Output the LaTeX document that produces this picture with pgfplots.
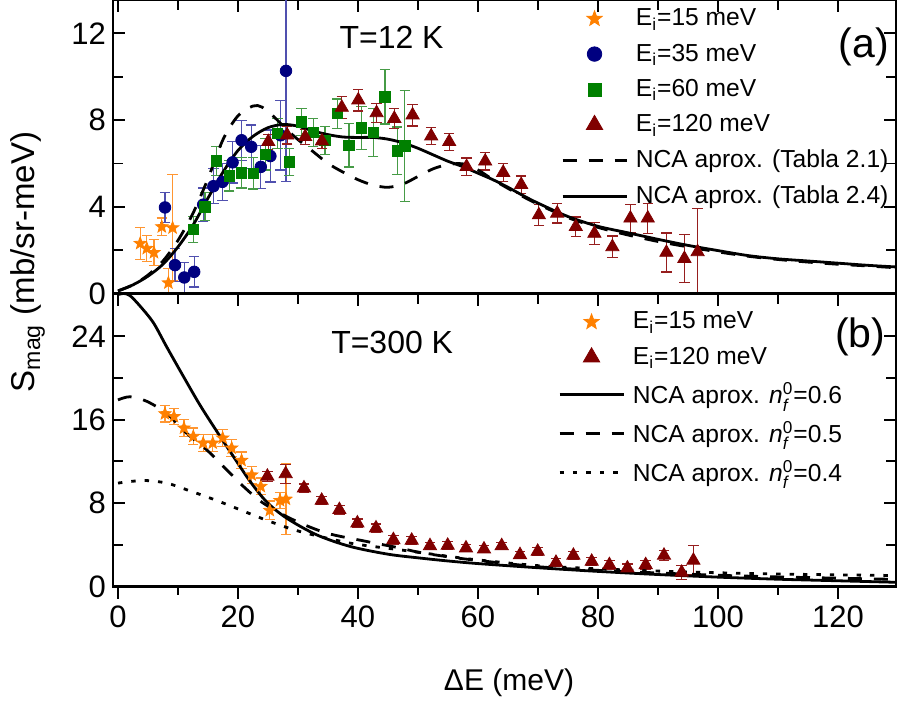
\documentclass[border=0pt]{standalone}
\usepackage{fontspec}
\setmainfont{Liberation Sans}
\usepackage{amsmath}
\usepackage{pgfplots}
\pgfplotsset{compat=1.18}

\definecolor{cstar}{RGB}{255,128,0}
\definecolor{cstarerr}{RGB}{255,150,50}
\definecolor{ccirc}{RGB}{0,0,128}
\definecolor{ccircerr}{RGB}{80,80,175}
\definecolor{csq}{RGB}{0,128,0}
\definecolor{csqerr}{RGB}{70,155,70}
\definecolor{ctri}{RGB}{128,0,0}
\definecolor{ctrierr}{RGB}{150,30,30}

% filled five-point star
\pgfdeclareplotmark{fstar}{%
  \pgfpathmoveto{\pgfqpointpolar{90}{\pgfplotmarksize}}%
  \pgfpathlineto{\pgfqpointpolar{126}{0.42\pgfplotmarksize}}%
  \pgfpathlineto{\pgfqpointpolar{162}{\pgfplotmarksize}}%
  \pgfpathlineto{\pgfqpointpolar{198}{0.42\pgfplotmarksize}}%
  \pgfpathlineto{\pgfqpointpolar{234}{\pgfplotmarksize}}%
  \pgfpathlineto{\pgfqpointpolar{270}{0.42\pgfplotmarksize}}%
  \pgfpathlineto{\pgfqpointpolar{306}{\pgfplotmarksize}}%
  \pgfpathlineto{\pgfqpointpolar{342}{0.42\pgfplotmarksize}}%
  \pgfpathlineto{\pgfqpointpolar{18}{\pgfplotmarksize}}%
  \pgfpathlineto{\pgfqpointpolar{54}{0.42\pgfplotmarksize}}%
  \pgfpathclose
  \pgfusepathqfillstroke}

\pgfplotsset{
  panel/.style={scale only axis, width=391.5pt,
    xmin=-0.83, xmax=129.67, xtick={0,20,...,120}, minor x tick num=1,
    minor y tick num=1, tick align=inside,
    major tick length=6pt, minor tick length=5pt,
    every tick/.style={line width=0.9pt, black},
    axis line style={line width=1.3pt},
    tick label style={font=\fontsize{15.5}{18}\selectfont},
    /pgf/number format/assume math mode=true,
    legend cell align=left},
  mleg/.style={legend image code/.code={%
    \draw[mark repeat=2,mark phase=2,##1] plot coordinates {(0pt,0pt) (16pt,0pt) (32pt,0pt)};}},
  mlegm/.style={legend image code/.code={%
    \draw[mark repeat=2,mark phase=2,##1,mark options={scale=1.25}] plot coordinates {(0pt,0pt) (16pt,0pt) (32pt,0pt)};}},
  errs/.style={/pgfplots/error bars/y dir=both, /pgfplots/error bars/y explicit,
    /pgfplots/error bars/error bar style={line width=0.6pt, #1},
    /pgfplots/error bars/error mark options={rotate=90, mark size=2.6pt, line width=0.6pt, #1}},
  curve/.style={black, line width=1.4pt, smooth},
}

\begin{document}
\begin{tikzpicture}
% ---------------- panel (a) ----------------
\begin{axis}[panel, at={(56.5pt,0pt)}, anchor=north west, height=146.75pt,
    ymin=0, ymax=13.54, ytick={0,4,8,12},
    xtick pos=right, xticklabels={},
    legend style={draw=none, fill=none, at={(0.5718,0.978)}, anchor=north west,
      font=\fontsize{12.3}{14.5}\selectfont, row sep=5.6pt, inner sep=0pt,
      nodes={inner sep=1pt}, column sep=3pt}]
\addplot[only marks, mark=fstar, mark size=3.2pt, color=cstar, errs={cstarerr}, mlegm] coordinates {
  (3.7,2.31) +- (0,0.75) (4.8,2.08) +- (0,0.6) (6.0,1.89) +- (0,0.6)
  (7.3,3.08) +- (0,0.4) (8.4,0.49) +- (0,0.67) (9.1,3.03) +- (0,2.45)
};
\addlegendentry{E\textsubscript{i}=15 meV}
\addplot[only marks, mark=*, mark size=2.9pt, color=ccirc, errs={ccircerr}, mlegm] coordinates {
  (7.83,3.97) +- (0,0.69) (9.5,1.31) +- (0,0.75) (11.05,0.74) +- (0,0.7)
  (12.7,1.0) +- (0,0.7) (14.2,4.1) +- (0,0.77) (15.9,4.95) +- (0,0.8)
  (17.4,5.15) +- (0,0.85) (19.1,6.05) +- (0,0.95) (20.6,7.07) +- (0,0.92)
  (22.2,6.77) +- (0,1.0) (23.8,5.84) +- (0,1.0) (25.4,6.34) +- (0,1.2)
  (27.1,7.3) +- (0,1.6) (28.0,10.27) +- (0,5.1)
};
\addlegendentry{E\textsubscript{i}=35 meV}
\addplot[only marks, mark=square*, mark size=2.6pt, color=csq, errs={csqerr}, mlegm] coordinates {
  (12.55,2.95) +- (0,0.6) (14.5,4.0) +- (0,0.65) (16.45,6.12) +- (0,0.67)
  (18.55,5.43) +- (0,0.7) (20.6,5.57) +- (0,0.7) (22.55,5.54) +- (0,0.72)
  (24.6,6.43) +- (0,0.73) (26.6,7.38) +- (0,0.7) (28.55,6.07) +- (0,0.63)
  (30.6,7.92) +- (0,0.62) (32.55,7.43) +- (0,0.65) (34.5,7.07) +- (0,0.65)
  (36.55,8.3) +- (0,0.67) (38.5,6.84) +- (0,1.0) (40.6,7.64) +- (0,1.0)
  (42.55,7.43) +- (0,1.1) (44.5,9.07) +- (0,1.25) (46.55,6.58) +- (0,1.1)
  (47.8,6.81) +- (0,2.55)
};
\addlegendentry{E\textsubscript{i}=60 meV}
\addplot[only marks, mark=triangle*, mark size=3.8pt, color=ctri, errs={ctrierr}, mlegm] coordinates {
  (25.05,7.0) +- (0,0.35) (28.2,7.3) +- (0,0.4) (31.2,7.23) +- (0,0.35)
  (34.0,7.03) +- (0,0.35) (37.3,8.58) +- (0,0.5) (40.05,8.92) +- (0,0.5)
  (43.1,8.33) +- (0,0.45) (46.05,8.07) +- (0,0.45) (49.1,8.23) +- (0,0.5)
  (52.2,7.26) +- (0,0.4) (55.2,7.0) +- (0,0.4) (58.1,5.85) +- (0,0.4)
  (61.2,6.1) +- (0,0.4) (64.2,5.58) +- (0,0.4) (67.2,5.02) +- (0,0.4)
  (70.15,3.62) +- (0,0.5) (73.2,3.7) +- (0,0.45) (76.3,3.08) +- (0,0.45)
  (79.4,2.77) +- (0,0.5) (82.4,2.15) +- (0,0.5) (85.4,3.47) +- (0,0.65)
  (88.3,3.47) +- (0,0.7) (91.4,1.89) +- (0,0.9) (94.4,1.61) +- (0,1.1)
  (96.6,1.92) +- (0,2.0)
};
\addlegendentry{E\textsubscript{i}=120 meV}
\addplot[curve, dash pattern=on 7pt off 6pt, mleg] coordinates {
  (0,0.12) (2.5,0.4) (5,0.85) (7.5,1.5) (10,2.45) (12.5,3.7) (15,5.3)
  (17.5,7.1) (20,8.2) (22.5,8.65) (24,8.6) (26,8.15) (28,7.6) (30,7.1)
  (32.5,6.55) (35,6.0) (37.5,5.6) (40,5.25) (42.5,5.0) (45,4.9) (47.5,5.05)
  (50,5.4) (52.5,5.75) (55,5.95) (57.5,5.98) (60,5.7) (62.5,5.25) (65,4.85)
  (67.5,4.47) (70,4.12) (75,3.5) (80,3.05) (85,2.7) (90,2.4) (95,2.15)
  (100,1.92) (105,1.72) (110,1.57) (115,1.45) (120,1.35) (125,1.27) (130,1.18)
};
\addlegendentry{NCA aprox. (Tabla 2.1)}
\addplot[curve, mleg] coordinates {
  (0,0.12) (2.5,0.4) (5,0.8) (7.5,1.35) (10,2.15) (12.5,3.15) (15,4.4)
  (17.5,5.6) (20,6.6) (22.5,7.25) (25,7.65) (27.5,7.8) (30,7.72) (32.5,7.5)
  (35,7.33) (37.5,7.22) (40,7.2) (42.5,7.2) (45,7.12) (47.5,6.95) (50,6.7)
  (52.5,6.4) (55,6.1) (57.5,5.85) (60,5.55) (62.5,5.25) (65,4.9) (67.5,4.52)
  (70,4.17) (75,3.55) (80,3.1) (85,2.8) (90,2.5) (95,2.22) (100,1.98)
  (105,1.75) (110,1.6) (115,1.5) (120,1.4) (125,1.3) (130,1.22)
};
\addlegendentry{NCA aprox. (Tabla 2.4)}
\node[font=\fontsize{16}{19}\selectfont] at (axis cs:45.6,11.8) {T=12 K};
\node[font=\fontsize{20.5}{24}\selectfont] at (axis cs:124.3,11.37) {(a)};
\end{axis}

% ---------------- panel (b) ----------------
\begin{axis}[panel, at={(56.5pt,-146.75pt)}, anchor=north west, height=146.5pt,
    ymin=0, ymax=28.1, ytick={0,8,16,24},
    xtick pos=right, xticklabels={},
    legend style={draw=none, fill=none, at={(0.568,0.945)}, anchor=north west,
      font=\fontsize{12.3}{14.5}\selectfont, row sep=5.6pt, inner sep=0pt,
      nodes={inner sep=1pt}, column sep=3pt}]
\addplot[only marks, mark=fstar, mark size=3.2pt, color=cstar, errs={cstarerr}, mlegm] coordinates {
  (7.83,16.57) +- (0,0.8) (9.33,16.3) +- (0,0.8) (11.0,15.2) +- (0,0.8)
  (12.55,14.4) +- (0,0.8) (14.2,13.76) +- (0,0.8) (15.8,13.76) +- (0,0.8)
  (17.45,14.24) +- (0,0.8) (18.95,13.28) +- (0,0.8) (20.6,12.1) +- (0,0.8)
  (22.3,10.7) +- (0,0.8) (23.8,9.6) +- (0,0.8) (25.3,7.3) +- (0,0.9)
  (27.0,8.25) +- (0,0.8) (28.0,8.38) +- (0,3.4)
};
\addlegendentry{E\textsubscript{i}=15 meV}
\addplot[only marks, mark=triangle*, mark size=3.8pt, color=ctri, errs={ctrierr}, mlegm] coordinates {
  (24.9,10.56) +- (0,0.5) (27.95,10.8) +- (0,0.9) (31.0,9.44) +- (0,0.4)
  (33.95,8.25) +- (0,0.4) (36.9,7.36) +- (0,0.4) (39.9,6.08) +- (0,0.4)
  (43.0,5.6) +- (0,0.4) (45.9,4.48) +- (0,0.4) (48.95,4.42) +- (0,0.4)
  (52.0,3.9) +- (0,0.35) (54.95,3.94) +- (0,0.35) (58.0,3.68) +- (0,0.35)
  (61.0,3.58) +- (0,0.35) (63.95,3.9) +- (0,0.35) (67.0,3.04) +- (0,0.35)
  (69.95,3.36) +- (0,0.35) (73.0,2.3) +- (0,0.35) (75.9,2.98) +- (0,0.35)
  (78.95,2.4) +- (0,0.35) (81.9,2.08) +- (0,0.4) (84.9,1.76) +- (0,0.4)
  (87.95,2.08) +- (0,0.4) (91.0,2.98) +- (0,0.5) (93.95,1.34) +- (0,0.7)
  (95.9,2.5) +- (0,1.4)
};
\addlegendentry{E\textsubscript{i}=120 meV}
\addplot[curve, mleg] coordinates {
  (0,28.0) (1,28.1) (2,27.9) (3.67,26.9) (5.9,25.3) (8.1,23.0) (10.9,20.15)
  (13.67,17.4) (16.45,14.9) (19.2,12.5) (22,10.1) (24.8,8.1) (28.1,6.56)
  (33.1,4.96) (38.7,3.84) (45,3.1) (50,2.75) (55,2.45) (60,2.2) (70,1.8)
  (80,1.45) (90,1.15) (100,0.9) (110,0.7) (120,0.55) (130,0.4)
};
\addlegendentry{NCA aprox. \textit{n}$_{\text{\itshape f}}^{\text{0}}$=0.6}
\addplot[curve, dash pattern=on 7pt off 6pt, mleg] coordinates {
  (0,17.9) (2,18.2) (4.8,17.76) (8.1,16.6) (11.45,14.7) (14.8,13.1)
  (18.1,11.2) (20.9,9.6) (24.2,8.0) (29.2,6.4) (34.8,5.12) (41.45,4.32)
  (47,3.69) (50,3.3) (55,2.85) (60,2.5) (70,1.9) (80,1.55) (90,1.3)
  (100,1.08) (110,0.92) (120,0.8) (130,0.68)
};
\addlegendentry{NCA aprox. \textit{n}$_{\text{\itshape f}}^{\text{0}}$=0.5}
\addplot[curve, dash pattern=on 2.2pt off 4.5pt, mleg] coordinates {
  (0,9.92) (4.2,10.17) (8.1,9.92) (11.45,9.28) (16.45,8.25) (22,6.98)
  (25.3,6.24) (30.3,5.28) (38.7,4.16) (47,3.52) (55,2.9) (60,2.55)
  (70,2.0) (80,1.7) (90,1.48) (100,1.32) (110,1.2) (120,1.12) (130,1.05)
};
\addlegendentry{NCA aprox. \textit{n}$_{\text{\itshape f}}^{\text{0}}$=0.4}
\node[font=\fontsize{16}{19}\selectfont] at (axis cs:45.7,23.4) {T=300 K};
\node[font=\fontsize{20.5}{24}\selectfont] at (axis cs:123.7,23.9) {(b)};
\end{axis}

% bottom ticks and labels of the shared x axis
\begin{axis}[scale only axis, width=391.5pt, height=146.5pt,
    at={(56.5pt,-146.75pt)}, anchor=north west,
    xmin=-0.83, xmax=129.67, ymin=0, ymax=1,
    axis x line*=bottom, hide y axis, axis line style={-, line width=1.3pt},
    xtick={0,20,...,120}, minor x tick num=1, tick align=outside,
    major tick length=6pt, minor tick length=4pt,
    every tick/.style={line width=0.9pt, black},
    tick label style={font=\fontsize{15.5}{18}\selectfont},
    /pgf/number format/assume math mode=true]
\end{axis}

\node[rotate=90, font=\fontsize{16.5}{19}\selectfont] at (14pt,-131pt) {S\textsubscript{mag} (mb/sr-meV)};
\node[font=\fontsize{15}{18}\selectfont] at (254.5pt,-341.5pt) {ΔE (meV)};

\pgfresetboundingbox
\path[use as bounding box] (0pt,0pt) rectangle (448.5pt,-351.5pt);
\end{tikzpicture}
\end{document}
